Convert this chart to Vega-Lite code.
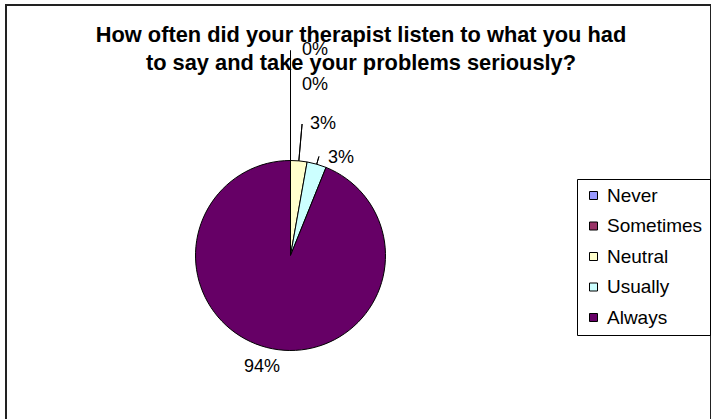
{
  "$schema": "https://vega.github.io/schema/vega-lite/v6.json",
  "width": 705,
  "height": 420,
  "autosize": "none",
  "padding": {"left": 6, "top": 5, "right": 0, "bottom": 0},
  "background": "white",
  "config": {
    "view": {"stroke": null},
    "font": "Liberation Sans"
  },
  "title": {
    "text": ["How often did your therapist listen to what you had", "to say and take your problems seriously?"],
    "font": "Liberation Sans",
    "fontSize": 21.8,
    "fontWeight": "bold",
    "color": "black",
    "anchor": "middle",
    "frame": "group",
    "lineHeight": 28,
    "offset": 0,
    "dx": 2.5,
    "dy": 71
  },
  "data": {
    "values": [
      {"code": 1, "answer": "Never", "share": 0},
      {"code": 2, "answer": "Sometimes", "share": 0},
      {"code": 3, "answer": "Neutral", "share": 0.028},
      {"code": 4, "answer": "Usually", "share": 0.033},
      {"code": 5, "answer": "Always", "share": 0.939}
    ]
  },
  "layer": [
    {
      "transform": [{"aggregate": [{"op": "count", "as": "n"}]}],
      "mark": {"type": "rect", "fill": "transparent", "stroke": "#222222", "strokeWidth": 2},
      "encoding": {}
    },
    {
      "mark": {"type": "arc", "x": 284.5, "y": 250.5, "radius": 95, "stroke": "black", "strokeWidth": 1},
      "encoding": {
        "theta": {"field": "share", "type": "quantitative", "stack": true, "scale": {"domain": [0, 1]}},
        "order": {"field": "code", "type": "quantitative"},
        "color": {
          "field": "answer",
          "type": "nominal",
          "scale": {
            "domain": ["Never", "Sometimes", "Neutral", "Usually", "Always"],
            "range": ["#9999FF", "#993366", "#FFFFCC", "#CCFFFF", "#660066"]
          },
          "legend": {
            "title": null,
            "orient": "none",
            "legendX": 571,
            "legendY": 174,
            "symbolType": "square",
            "symbolSize": 64,
            "symbolStrokeColor": "black",
            "symbolStrokeWidth": 1,
            "labelFont": "Liberation Sans",
            "labelFontSize": 19,
            "labelColor": "black",
            "labelOffset": 4,
            "strokeColor": "black",
            "padding": 7,
            "rowPadding": 10.5
          }
        }
      }
    },
    {
      "transform": [
        {"stack": "share", "groupby": [], "sort": [{"field": "code"}], "as": ["s0", "s1"]},
        {"filter": "datum.code == 1"}
      ],
      "mark": {"type": "arc", "x": 284.5, "y": 250.5, "radius": 205, "radius2": 95, "stroke": "black", "strokeWidth": 1, "fill": "transparent"},
      "encoding": {
        "theta": {"field": "s0", "type": "quantitative", "scale": {"domain": [0, 1]}},
        "theta2": {"field": "s0"}
      }
    },
    {
      "transform": [
        {"stack": "share", "groupby": [], "sort": [{"field": "code"}], "as": ["s0", "s1"]},
        {"filter": "datum.code == 3"}
      ],
      "mark": {"type": "arc", "x": 284.5, "y": 250.5, "radius": 132, "radius2": 95, "thetaOffset": -0.088, "theta2Offset": -0.088, "stroke": "black", "strokeWidth": 1, "fill": "transparent"},
      "encoding": {
        "theta": {"field": "s1", "type": "quantitative", "scale": {"domain": [0, 1]}},
        "theta2": {"field": "s1"}
      }
    },
    {
      "transform": [
        {"stack": "share", "groupby": [], "sort": [{"field": "code"}], "as": ["s0", "s1"]},
        {"filter": "datum.code == 4"}
      ],
      "mark": {"type": "arc", "x": 284.5, "y": 250.5, "radius": 103, "radius2": 95, "thetaOffset": -0.1037, "theta2Offset": -0.1037, "stroke": "black", "strokeWidth": 1, "fill": "transparent"},
      "encoding": {
        "theta": {"field": "s1", "type": "quantitative", "scale": {"domain": [0, 1]}},
        "theta2": {"field": "s1"}
      }
    },
    {
      "mark": {"type": "text", "x": 284.5, "y": 250.5, "radius": 206, "align": "left", "baseline": "middle", "dx": 11.5, "fontSize": 18, "font": "Liberation Sans", "color": "black"},
      "encoding": {
        "theta": {"field": "share", "type": "quantitative", "stack": true, "scale": {"domain": [0, 1]}},
        "order": {"field": "code", "type": "quantitative"},
        "text": {"condition": {"test": "datum.code == 1", "field": "share", "type": "quantitative", "format": ".0%"}, "value": ""}
      }
    },
    {
      "mark": {"type": "text", "x": 284.5, "y": 250.5, "radius": 170.5, "align": "left", "baseline": "middle", "dx": 11.5, "fontSize": 18, "font": "Liberation Sans", "color": "black"},
      "encoding": {
        "theta": {"field": "share", "type": "quantitative", "stack": true, "scale": {"domain": [0, 1]}},
        "order": {"field": "code", "type": "quantitative"},
        "text": {"condition": {"test": "datum.code == 2", "field": "share", "type": "quantitative", "format": ".0%"}, "value": ""}
      }
    },
    {
      "mark": {"type": "text", "x": 284.5, "y": 250.5, "radius": 132, "align": "left", "baseline": "middle", "dx": 8, "fontSize": 18, "font": "Liberation Sans", "color": "black"},
      "encoding": {
        "theta": {"field": "share", "type": "quantitative", "stack": true, "scale": {"domain": [0, 1]}},
        "order": {"field": "code", "type": "quantitative"},
        "text": {"condition": {"test": "datum.code == 3", "field": "share", "type": "quantitative", "format": ".0%"}, "value": ""}
      }
    },
    {
      "mark": {"type": "text", "x": 284.5, "y": 250.5, "radius": 103, "align": "left", "baseline": "middle", "dx": 9, "dy": 1.5, "fontSize": 18, "font": "Liberation Sans", "color": "black"},
      "encoding": {
        "theta": {"field": "share", "type": "quantitative", "stack": true, "scale": {"domain": [0, 1]}},
        "order": {"field": "code", "type": "quantitative"},
        "text": {"condition": {"test": "datum.code == 4", "field": "share", "type": "quantitative", "format": ".0%"}, "value": ""}
      }
    },
    {
      "mark": {"type": "text", "x": 284.5, "y": 250.5, "radius": 115, "align": "center", "baseline": "middle", "dx": -6.6, "dy": -1.5, "fontSize": 18, "font": "Liberation Sans", "color": "black"},
      "encoding": {
        "theta": {"field": "share", "type": "quantitative", "stack": true, "scale": {"domain": [0, 1]}},
        "order": {"field": "code", "type": "quantitative"},
        "text": {"condition": {"test": "datum.code == 5", "field": "share", "type": "quantitative", "format": ".0%"}, "value": ""}
      }
    }
  ]
}
